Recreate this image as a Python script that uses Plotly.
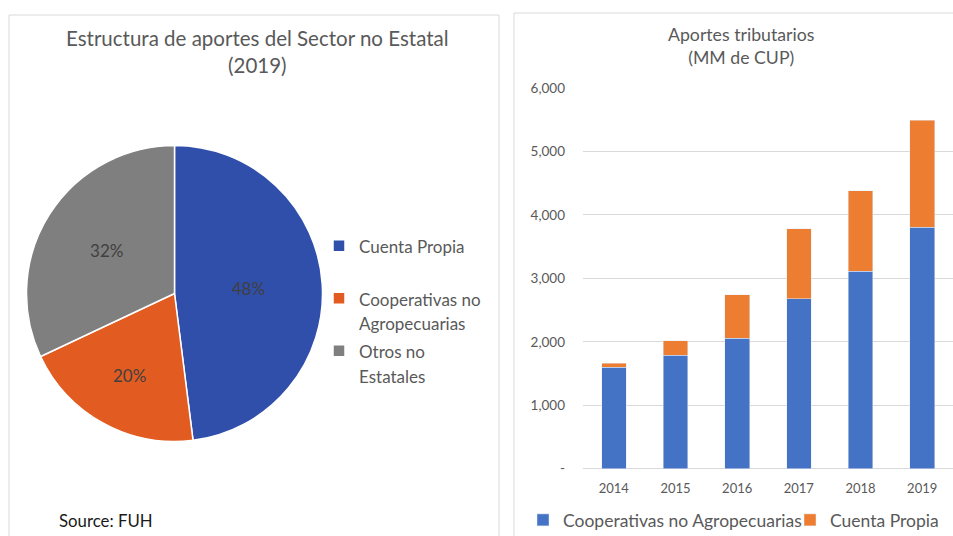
import plotly.graph_objects as go

# ---- data ----
pie_labels = ["Cuenta Propia<br> ", "Cooperativas no<br>Agropecuarias", "Otros no<br>Estatales"]
pie_values = [48, 20, 32]
pie_colors = ["#2f4fab", "#e25c22", "#7f7f7f"]

years = ["2014", "2015", "2016", "2017", "2018", "2019"]
coop_vals = [1600, 1790, 2057, 2677, 3113, 3808]
cuenta_vals = [62, 230, 687, 1108, 1267, 1687]
ytick_vals = [0, 1000, 2000, 3000, 4000, 5000, 6000]
ytick_text = ["-", "1,000", "2,000", "3,000", "4,000", "5,000", "6,000"]

W, H = 953, 536
FONT = "Lato"
GREY = "#595959"


def small(t, size=17):
    return "<br>".join(f"<span style='font-size:{size}px'>{p}</span>" for p in t.split("<br>"))


fig = go.Figure()

fig.add_trace(go.Pie(
    labels=[small(l) for l in pie_labels], values=pie_values, sort=False,
    direction="clockwise", rotation=0,
    marker=dict(colors=pie_colors, line=dict(color="white", width=1.5)),
    textinfo="percent", textposition="inside", insidetextorientation="horizontal",
    textfont=dict(family=FONT, size=17, color="#404040"),
    domain=dict(x=[26.5 / W, 322.5 / W], y=[1 - 441.5 / H, 1 - 145.5 / H]),
    legend="legend", hoverinfo="percent",
))

fig.add_trace(go.Bar(
    x=years, y=coop_vals, name="Cooperativas no Agropecuarias",
    marker=dict(color="#4472C4"), legend="legend2",
))
fig.add_trace(go.Bar(
    x=years, y=cuenta_vals, name="Cuenta Propia",
    marker=dict(color="#ED7D31"), legend="legend2",
))

fig.update_layout(
    width=W, height=H,
    margin=dict(l=0, r=0, t=0, b=0, autoexpand=False),
    paper_bgcolor="white", plot_bgcolor="white",
    barmode="stack", bargap=0.6,
    font=dict(family=FONT, color=GREY),
    xaxis=dict(domain=[583 / W, 953 / W], type="category", showgrid=False,
               showline=False, zeroline=False, ticks="",
               tickfont=dict(family=FONT, size=13, color=GREY),
               ticklabelstandoff=10),
    yaxis=dict(domain=[1 - 468.7 / H, 1 - 88 / H], range=[0, 6000],
               tickvals=ytick_vals, ticktext=ytick_text,
               showgrid=True, gridcolor="#d9d9d9", gridwidth=1,
               zeroline=True, zerolinecolor="#d9d9d9", zerolinewidth=1,
               showline=False, ticks="",
               tickfont=dict(family=FONT, size=13.5, color=GREY),
               ticklabelstandoff=17),
    legend=dict(x=319 / W, y=1 - 227 / H, xanchor="left", yanchor="top",
                valign="top", font=dict(family=FONT, size=19, color=GREY),
                bgcolor="rgba(0,0,0,0)"),
    legend2=dict(orientation="h", x=523 / W, y=1 - 520 / H, xanchor="left",
                 yanchor="middle", traceorder="normal", entrywidth=222,
                 font=dict(family=FONT, size=17.5, color=GREY),
                 bgcolor="rgba(0,0,0,0)"),
    shapes=[
        dict(type="rect", xref="paper", yref="paper", x0=9 / W, x1=499 / W,
             y0=-0.02, y1=1 - 15 / H, line=dict(color="#d9d9d9", width=1),
             layer="below"),
        dict(type="rect", xref="paper", yref="paper", x0=514 / W, x1=1.02,
             y0=-0.02, y1=1 - 13 / H, line=dict(color="#d9d9d9", width=1),
             layer="below"),
    ],
    annotations=[
        dict(text="Estructura de aportes del Sector no Estatal<br>(2019)",
             xref="paper", yref="paper", x=257.5 / W, y=1 - 51 / H,
             xanchor="center", yanchor="middle", showarrow=False,
             font=dict(family=FONT, size=20.5, color=GREY)),
        dict(text="Aportes tributarios<br>(MM de CUP)",
             xref="paper", yref="paper", x=741 / W, y=1 - 46.5 / H,
             xanchor="center", yanchor="middle", showarrow=False,
             font=dict(family=FONT, size=17.7, color=GREY)),
        dict(text="Source: FUH", xref="paper", yref="paper", x=57 / W,
             y=1 - 520 / H, xanchor="left", yanchor="middle", showarrow=False,
             font=dict(family=FONT, size=16.8, color="#1a1a1a")),
    ],
)

fig.write_html("out.html", config={"displayModeBar": False},
               post_script="document.body.style.margin='0';")
